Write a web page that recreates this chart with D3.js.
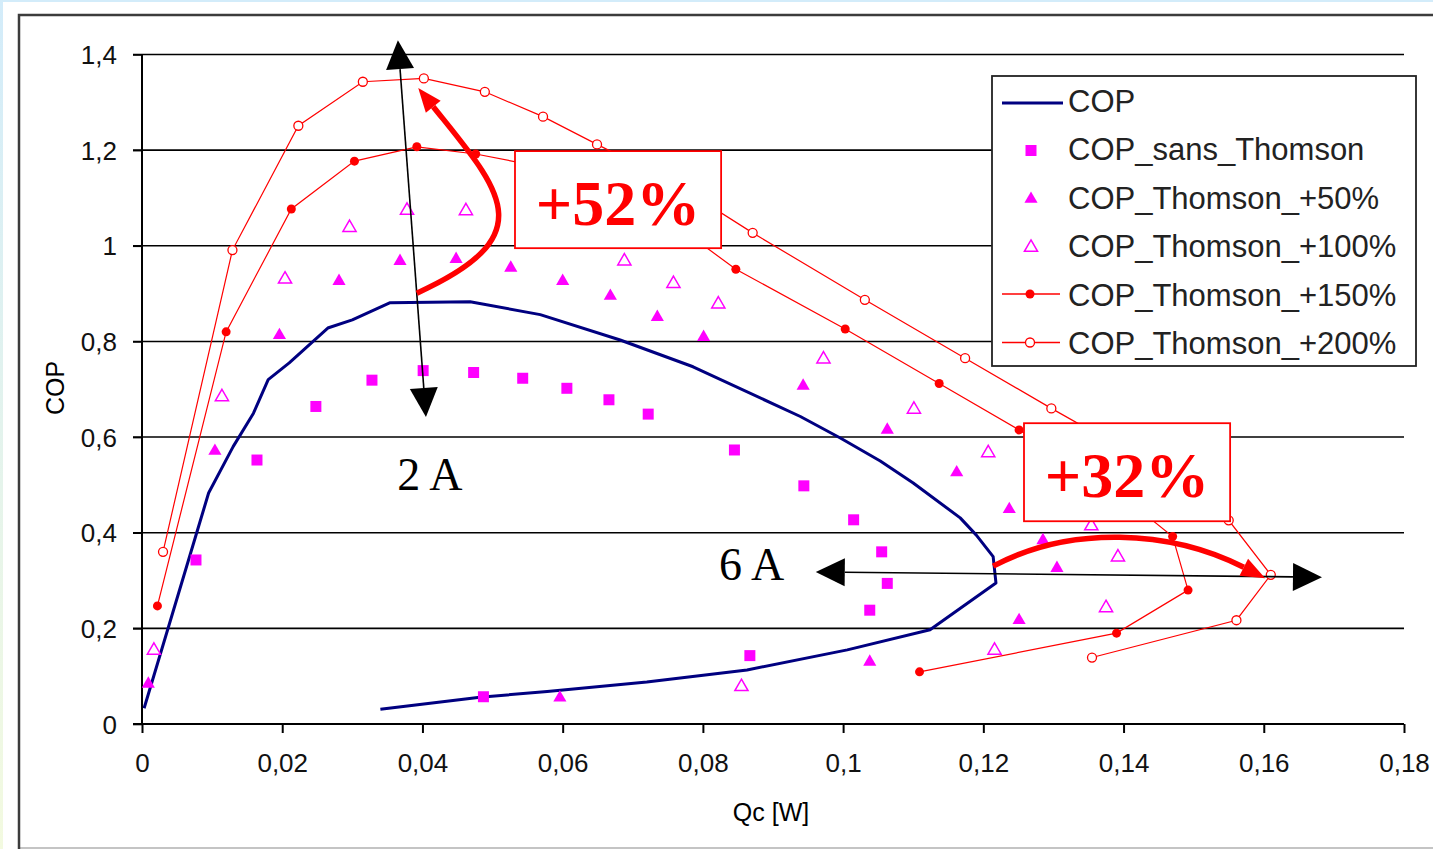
<!DOCTYPE html>
<html>
<head>
<meta charset="utf-8">
<script src="https://cdn.jsdelivr.net/npm/d3@7"></script>
<style>
  html, body { margin: 0; padding: 0; background: #fff; }
  svg { display: block; }
</style>
</head>
<body>
<script>
// series: [Qc (W), COP]
const cop = [
  [0.0003, 0.033], [0.0076, 0.39], [0.0095, 0.483], [0.013, 0.58], [0.0159, 0.65], [0.018, 0.72],
  [0.021, 0.755], [0.0265, 0.828], [0.030, 0.845], [0.0354, 0.881], [0.0468, 0.883],
  [0.0568, 0.856], [0.0682, 0.803], [0.0786, 0.747], [0.0939, 0.643], [0.0996, 0.598],
  [0.1053, 0.550], [0.110, 0.504], [0.1167, 0.431], [0.1190, 0.395], [0.1214, 0.35], [0.1218, 0.295],
  [0.1124, 0.197], [0.1006, 0.155], [0.0863, 0.113], [0.072, 0.088], [0.0578, 0.068], [0.0482, 0.056],
  [0.034, 0.031]
];
const copSansThomson = [
  [0.0077, 0.343], [0.0164, 0.552], [0.0248, 0.664], [0.0328, 0.719], [0.0401, 0.739],
  [0.0473, 0.735], [0.0543, 0.723], [0.0606, 0.702], [0.0666, 0.678], [0.0722, 0.648],
  [0.0845, 0.573], [0.0944, 0.498], [0.1015, 0.427], [0.1055, 0.360], [0.1063, 0.294],
  [0.1038, 0.238], [0.0867, 0.143], [0.0487, 0.057]
];
const copThomson50 = [
  [0.0009, 0.086], [0.0104, 0.573], [0.0196, 0.815], [0.0281, 0.928], [0.0368, 0.970],
  [0.0448, 0.974], [0.0526, 0.956], [0.0600, 0.928], [0.0668, 0.897], [0.0735, 0.853],
  [0.0801, 0.811], [0.0943, 0.709], [0.1063, 0.617], [0.1162, 0.528], [0.1237, 0.451],
  [0.1285, 0.386], [0.1305, 0.328], [0.1251, 0.219], [0.1038, 0.132], [0.0596, 0.057]
];
const copThomson100 = [
  [0.0017, 0.156], [0.0114, 0.686], [0.0204, 0.932], [0.0296, 1.040], [0.0378, 1.076],
  [0.0462, 1.075], [0.0688, 0.970], [0.0758, 0.923], [0.0822, 0.880], [0.0972, 0.765],
  [0.1101, 0.660], [0.1207, 0.569], [0.1354, 0.416], [0.1392, 0.351], [0.1375, 0.245],
  [0.1216, 0.156], [0.0855, 0.080]
];
const copThomson150 = [
  [0.0022, 0.247], [0.0120, 0.820], [0.0213, 1.077], [0.0303, 1.177], [0.0392, 1.207],
  [0.0476, 1.192], [0.0570, 1.165], [0.0660, 1.120], [0.0755, 1.050], [0.0847, 0.951],
  [0.1003, 0.826], [0.1137, 0.712], [0.1251, 0.615], [0.1370, 0.510], [0.1470, 0.392],
  [0.1492, 0.280], [0.1390, 0.190], [0.1109, 0.109]
];
const copThomson200 = [
  [0.0030, 0.360], [0.0129, 0.991], [0.0223, 1.251], [0.0315, 1.343], [0.0402, 1.350],
  [0.0489, 1.322], [0.0572, 1.270], [0.0649, 1.212], [0.0760, 1.130], [0.0871, 1.027],
  [0.1031, 0.887], [0.1174, 0.765], [0.1297, 0.660], [0.1430, 0.550], [0.1550, 0.426],
  [0.1610, 0.312], [0.1561, 0.217], [0.1355, 0.139]
];

const xTicks = [0, 0.02, 0.04, 0.06, 0.08, 0.1, 0.12, 0.14, 0.16, 0.18];
const xTickLabels = ['0', '0,02', '0,04', '0,06', '0,08', '0,1', '0,12', '0,14', '0,16', '0,18'];
const yTicks = [0, 0.2, 0.4, 0.6, 0.8, 1, 1.2, 1.4];
const yTickLabels = ['0', '0,2', '0,4', '0,6', '0,8', '1', '1,2', '1,4'];

const legendLabels = ['COP', 'COP_sans_Thomson', 'COP_Thomson_+50%', 'COP_Thomson_+100%',
  'COP_Thomson_+150%', 'COP_Thomson_+200%'];

// annotations in data units
const arrow2A = [[0.0365, 1.430], [0.0405, 0.642]];
const arrow6A = [[0.0961, 0.318], [0.1683, 0.307]];
const label2A = { text: '2 A', at: [0.0364, 0.489] };
const label6A = { text: '6 A', at: [0.0823, 0.301] };
const gainBoxes = [
  { text: '+52%', x0: 0.0532, x1: 0.0826, y0: 0.995, y1: 1.198 },
  { text: '+32%', x0: 0.1258, x1: 0.1552, y0: 0.424, y1: 0.629 }
];
// cubic curves: start, c1, c2, tip
const gainArrows = [
  [[0.0392, 0.901], [0.0575, 1.023], [0.0511, 1.116], [0.0394, 1.330]],
  [[0.1214, 0.330], [0.1324, 0.416], [0.1466, 0.406], [0.1602, 0.305]]
];

const renderChart = () => {
  const width = 1433;
  const height = 849;
  const plot = { left: 142, right: 1404, top: 54.5, bottom: 724 };
  const sans = '"Liberation Sans", Arial, sans-serif';
  const serif = '"Liberation Serif", "Times New Roman", serif';
  const magenta = '#ff00ff';
  const red = '#ff0000';
  const navy = '#000080';

  const svg = d3.select('body').append('svg')
    .attr('width', width)
    .attr('height', height);

  // page background and outer frame
  const defs = svg.append('defs');
  const grad = defs.append('linearGradient').attr('id', 'edge').attr('x1', 0).attr('y1', 0).attr('x2', 0).attr('y2', 1);
  grad.append('stop').attr('offset', '0%').attr('stop-color', '#d3ecfa');
  grad.append('stop').attr('offset', '100%').attr('stop-color', '#f3fae0');
  svg.append('rect').attr('x', 0).attr('y', 0).attr('width', width).attr('height', 2).attr('fill', '#d3ecfa');
  svg.append('rect').attr('x', 0).attr('y', 0).attr('width', 3).attr('height', height).attr('fill', 'url(#edge)');
  svg.append('line').attr('x1', 19).attr('x2', width).attr('y1', 848).attr('y2', 848)
    .attr('stroke', '#c4c4c4').attr('stroke-width', 2);
  svg.append('path').attr('d', `M19,849 V15 H${width + 5}`)
    .attr('fill', 'none').attr('stroke', '#3c3c3c').attr('stroke-width', 2.5);

  const x = d3.scaleLinear().domain([0, 0.18]).range([plot.left, plot.right]);
  const y = d3.scaleLinear().domain([0, 1.4]).range([plot.bottom, plot.top]);

  // gridlines + y ticks
  svg.append('g').selectAll('line')
    .data(yTicks.filter(d => d > 0))
    .enter().append('line')
    .attr('x1', plot.left - 9).attr('x2', plot.right)
    .attr('y1', d => y(d)).attr('y2', d => y(d))
    .attr('stroke', '#000').attr('stroke-width', 1.6);

  // axes
  const xAxis = svg.append('g').attr('transform', `translate(0,${plot.bottom})`)
    .call(d3.axisBottom(x).tickValues(xTicks).tickSize(9).tickFormat((d, i) => xTickLabels[i]));
  xAxis.select('.domain').attr('stroke', '#000').attr('stroke-width', 2)
    .attr('d', `M${plot.left - 9},0H${plot.right}`);
  xAxis.selectAll('.tick line').attr('stroke-width', 2);
  xAxis.selectAll('.tick text').attr('y', 48).attr('dy', 0)
    .style('font-family', sans).style('font-size', '26px').attr('fill', '#111');

  const yAxis = svg.append('g').attr('transform', `translate(${plot.left},0)`)
    .call(d3.axisLeft(y).tickValues(yTicks).tickSize(9).tickFormat((d, i) => yTickLabels[i]));
  yAxis.select('.domain').attr('stroke', '#000').attr('stroke-width', 2)
    .attr('d', `M0,${plot.top}V${plot.bottom}`);
  yAxis.selectAll('.tick line').attr('stroke-width', 1.6);
  yAxis.selectAll('.tick text').attr('x', -25).attr('dy', '0.35em')
    .style('font-family', sans).style('font-size', '26px').attr('fill', '#111');

  svg.append('text').attr('x', 771).attr('y', 821).attr('text-anchor', 'middle')
    .style('font-family', sans).style('font-size', '25px').text('Qc [W]');
  svg.append('text').attr('transform', 'translate(64,388) rotate(-90)').attr('text-anchor', 'middle')
    .style('font-family', sans).style('font-size', '25px').text('COP');

  // COP curve
  const line = d3.line().x(d => x(d[0])).y(d => y(d[1]));
  svg.append('path').datum(cop).attr('d', line)
    .attr('fill', 'none').attr('stroke', navy).attr('stroke-width', 3).attr('stroke-linejoin', 'round');

  // marker shapes
  const square = d3.symbol().type(d3.symbolSquare).size(121);
  const tri = d3.symbol().type(d3.symbolTriangle).size(75);

  svg.append('g').selectAll('path').data(copSansThomson).enter().append('path')
    .attr('d', square).attr('transform', d => `translate(${x(d[0])},${y(d[1])})`)
    .attr('fill', magenta);

  svg.append('g').selectAll('path').data(copThomson50).enter().append('path')
    .attr('d', tri).attr('transform', d => `translate(${x(d[0])},${y(d[1]) + 1})`)
    .attr('fill', magenta);

  svg.append('g').selectAll('path').data(copThomson100).enter().append('path')
    .attr('d', tri).attr('transform', d => `translate(${x(d[0])},${y(d[1]) + 1})`)
    .attr('fill', '#fff').attr('stroke', magenta).attr('stroke-width', 1.5);

  // red series with lines
  svg.append('path').datum(copThomson150).attr('d', line)
    .attr('fill', 'none').attr('stroke', red).attr('stroke-width', 1.2);
  svg.append('g').selectAll('circle').data(copThomson150).enter().append('circle')
    .attr('cx', d => x(d[0])).attr('cy', d => y(d[1])).attr('r', 4.5)
    .attr('fill', red);

  svg.append('path').datum(copThomson200).attr('d', line)
    .attr('fill', 'none').attr('stroke', red).attr('stroke-width', 1.2);
  svg.append('g').selectAll('circle').data(copThomson200).enter().append('circle')
    .attr('cx', d => x(d[0])).attr('cy', d => y(d[1])).attr('r', 4.5)
    .attr('fill', '#fff').attr('stroke', red).attr('stroke-width', 1.3);

  // arrow helper: filled head at tip, pointing away from "from"
  const head = (g, from, tip, len, wid, color) => {
    const dx = tip[0] - from[0], dy = tip[1] - from[1];
    const n = Math.hypot(dx, dy);
    const ux = dx / n, uy = dy / n;
    const bx = tip[0] - ux * len, by = tip[1] - uy * len;
    g.append('path')
      .attr('d', `M${tip[0]},${tip[1]}L${bx - uy * wid / 2},${by + ux * wid / 2}L${bx + uy * wid / 2},${by - ux * wid / 2}Z`)
      .attr('fill', color);
    return [bx, by];
  };

  const ann = svg.append('g');
  [arrow2A, arrow6A].forEach(a => {
    const p0 = [x(a[0][0]), y(a[0][1])];
    const p1 = [x(a[1][0]), y(a[1][1])];
    const b0 = head(ann, p1, p0, 29, 28, '#000');
    const b1 = head(ann, p0, p1, 29, 28, '#000');
    ann.append('line').attr('x1', b0[0]).attr('y1', b0[1]).attr('x2', b1[0]).attr('y2', b1[1])
      .attr('stroke', '#000').attr('stroke-width', 1.6);
  });
  [label2A, label6A].forEach(l => {
    ann.append('text').attr('x', x(l.at[0])).attr('y', y(l.at[1]))
      .style('font-family', serif).style('font-size', '46px').attr('fill', '#000')
      .text(l.text);
  });

  // boxes with gain percentages
  gainBoxes.forEach(b => {
    const bx0 = x(b.x0), bx1 = x(b.x1), by0 = y(b.y1), by1 = y(b.y0);
    ann.append('rect').attr('x', bx0).attr('y', by0).attr('width', bx1 - bx0).attr('height', by1 - by0)
      .attr('fill', '#fff').attr('stroke', red).attr('stroke-width', 1.8);
    ann.append('text').attr('x', (bx0 + bx1) / 2).attr('y', (by0 + by1) / 2 + 25)
      .attr('text-anchor', 'middle')
      .style('font-family', serif).style('font-weight', 'bold').style('font-size', '64px')
      .attr('fill', red).text(b.text);
  });

  // red curved arrows
  gainArrows.forEach(c => {
    const p = c.map(d => [x(d[0]), y(d[1])]);
    const base = head(ann, p[2], p[3], 24, 19, red);
    ann.append('path')
      .attr('d', `M${p[0][0]},${p[0][1]}C${p[1][0]},${p[1][1]} ${p[2][0]},${p[2][1]} ${base[0]},${base[1]}`)
      .attr('fill', 'none').attr('stroke', red).attr('stroke-width', 5.5);
  });

  // legend
  const legend = svg.append('g');
  legend.append('rect').attr('x', 992).attr('y', 76).attr('width', 424).attr('height', 290)
    .attr('fill', '#fff').attr('stroke', '#222').attr('stroke-width', 1.8);
  const rowY = i => 100 + i * 48.5;
  legendLabels.forEach((lab, i) => {
    const cy = rowY(i);
    legend.append('text').attr('x', 1068).attr('y', cy + 11.5)
      .style('font-family', sans).style('font-size', '31px').attr('fill', '#222').text(lab);
  });
  legend.append('line').attr('x1', 1002).attr('x2', 1063).attr('y1', rowY(0) + 3).attr('y2', rowY(0) + 3)
    .attr('stroke', navy).attr('stroke-width', 3);
  legend.append('path').attr('d', square).attr('transform', `translate(1031,${rowY(1) + 2})`).attr('fill', magenta);
  legend.append('path').attr('d', tri).attr('transform', `translate(1031,${rowY(2) + 2})`).attr('fill', magenta);
  legend.append('path').attr('d', tri).attr('transform', `translate(1031,${rowY(3) + 2})`)
    .attr('fill', '#fff').attr('stroke', magenta).attr('stroke-width', 1.5);
  [4, 5].forEach(i => {
    legend.append('line').attr('x1', 1002).attr('x2', 1060).attr('y1', rowY(i)).attr('y2', rowY(i))
      .attr('stroke', red).attr('stroke-width', 1.5);
  });
  legend.append('circle').attr('cx', 1030).attr('cy', rowY(4)).attr('r', 4.5).attr('fill', red);
  legend.append('circle').attr('cx', 1030).attr('cy', rowY(5)).attr('r', 4.5)
    .attr('fill', '#fff').attr('stroke', red).attr('stroke-width', 1.3);
};

renderChart();
</script>
</body>
</html>
